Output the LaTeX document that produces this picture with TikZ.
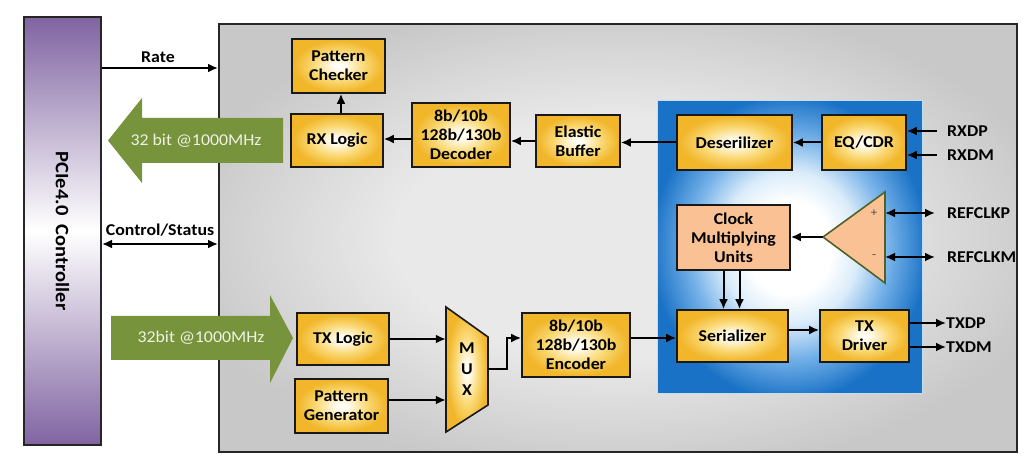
\documentclass[tikz,border=0pt]{standalone}
\usepackage{fontspec}
\setmainfont{Carlito}[FakeStretch=1.08]
\usetikzlibrary{arrows.meta,calc}
\definecolor{gold}{RGB}{241,182,42}
\definecolor{goldmid}{RGB}{250,216,115}
\definecolor{goldin}{RGB}{255,250,232}
\definecolor{bluee}{RGB}{26,114,198}
\definecolor{bluemid}{RGB}{115,176,232}
\definecolor{bluel}{RGB}{218,236,250}
\definecolor{purp}{RGB}{128,100,162}
\definecolor{olivegr}{RGB}{119,147,60}
\definecolor{peach}{RGB}{250,194,148}
\definecolor{ampline}{RGB}{79,98,40}
\definecolor{greyin}{RGB}{233,233,233}
\definecolor{greyout}{RGB}{200,200,200}
\definecolor{bustext}{RGB}{240,242,228}
\pgfdeclareradialshading{goldshade}{\pgfpoint{0bp}{0bp}}{color(0bp)=(white); color(4bp)=(goldin); color(14bp)=(goldmid); color(24bp)=(gold); color(50bp)=(gold)}
\pgfdeclareradialshading{blueshade}{\pgfpoint{0bp}{0bp}}{color(0bp)=(white); color(8bp)=(white); color(13bp)=(bluel); color(19bp)=(bluemid); color(26bp)=(bluee); color(50bp)=(bluee)}
\pgfdeclareradialshading{greyshade}{\pgfpoint{0bp}{0bp}}{color(0bp)=(greyin); color(14bp)=(greyin); color(28bp)=(greyout); color(50bp)=(greyout)}
\newcommand{\blkfont}{\fontsize{16.5}{19}\selectfont\bfseries}
\newcommand{\busfont}{\fontsize{16.5}{19}\selectfont}
\tikzset{
  blk/.style={draw=black!90, line width=1.6pt, shade, shading=goldshade, inner sep=0pt, align=center, font=\blkfont},
  arr/.style={line width=2pt, -{Latex[length=10pt,width=9pt]}},
  darr/.style={line width=2pt, {Latex[length=10pt,width=9pt]}-{Latex[length=10pt,width=9pt]}},
  pin/.style={anchor=west, inner sep=0pt, font=\blkfont},
  lbl/.style={inner sep=0pt, font=\blkfont},
  bustxt/.style={inner sep=0pt, font=\busfont, text=bustext}
}
\begin{document}
\begin{tikzpicture}[x=1pt,y=-1pt]
\useasboundingbox[fill=white] (0,0) rectangle (1026,462);
% frames
\node[draw=black!85, line width=2pt, shade, shading=greyshade, minimum width=798pt, minimum height=428pt] (main) at (618,238) {};
\node[draw=white!75!bluee, line width=1pt, shade, shading=blueshade, minimum width=265pt, minimum height=293pt] (blue) at (789.5,247.5) {};
\node[draw=black!85, line width=2pt, top color=purp, bottom color=purp, middle color=white, minimum width=77pt, minimum height=428pt] (ctrl) at (62.5,231) {};
\node[rotate=-90, inner sep=0pt, font=\fontsize{19}{21}\selectfont\bfseries] (ctrltxt) at (62.5,231) {PCIe4.0\ \ Controller};
% green buses
\fill[olivegr] (283,118) -- (142,118) -- (142,98) -- (108,140.5) -- (142,183) -- (142,163) -- (283,163) -- cycle;
\node[bustxt] (rxbus) at (196,141) {32 bit @1000MHz};
\fill[olivegr] (111,316) -- (270,316) -- (270,295) -- (293,338) -- (270,383) -- (270,360) -- (111,360) -- cycle;
\node[bustxt] (txbus) at (201,338) {32bit @1000MHz};
% controller links
\coordinate (rateY) at (0,68);
\coordinate (csY) at (0,244);
\node[lbl] (rate) at (158,57) {Rate};
\node[lbl] (cs) at (160,230) {Control/Status};
\draw[arr] (ctrl.east |- rateY) -- (main.west |- rateY);
\draw[darr] (ctrl.east |- csY) -- (main.west |- csY);
% RX path
\node[blk, minimum width=93pt, minimum height=54pt] (pc) at (338.5,66) {Pattern\\Checker};
\node[blk, minimum width=92pt, minimum height=53pt] (rxl) at (337,140.5) {RX Logic};
\node[blk, minimum width=98pt, minimum height=64pt] (dec) at (461,135) {8b/10b\\128b/130b\\Decoder};
\node[blk, minimum width=84pt, minimum height=52pt] (eb) at (578,141) {Elastic\\Buffer};
\node[blk, minimum width=115pt, minimum height=55pt] (des) at (734.5,142.5) {Deserilizer};
\node[blk, minimum width=84pt, minimum height=55pt] (eq) at (864,142.5) {EQ/CDR};
% clock
\node[draw=black!90, line width=1.6pt, fill=peach, inner sep=0pt, align=center, font=\blkfont, minimum width=113pt, minimum height=65pt] (cmu) at (733.5,237.5) {Clock\\Multiplying\\Units};
\path[draw=ampline, line width=1.6pt, fill=peach] (885,192) -- (885,283) -- (823,237) -- cycle;
\coordinate (amptip) at (823,237);
\coordinate (ampP) at (885,213);
\coordinate (ampM) at (885,257);
\node[inner sep=0pt, text=black!70, font=\fontsize{12}{13}\selectfont] (plus) at (874,213) {+};
\node[inner sep=0pt, text=black!70, font=\fontsize{12}{13}\selectfont] (minus) at (874,257) {-};
% TX path
\node[blk, minimum width=111pt, minimum height=52pt] (ser) at (732.5,336) {Serializer};
\node[blk, minimum width=89pt, minimum height=52pt] (txd) at (864.5,336) {TX\\Driver};
\node[blk, minimum width=92pt, minimum height=52pt] (txl) at (343,339) {TX Logic};
\node[blk, minimum width=93pt, minimum height=54pt] (pg) at (341.5,406) {Pattern\\Generator};
\node[blk, minimum width=108pt, minimum height=64pt] (enc) at (576,345) {8b/10b\\128b/130b\\Encoder};
\path[draw=black!90, line width=1.6pt, shade, shading=goldshade] (446,307) -- (488,337) -- (488,405) -- (446,432) -- cycle;
\node[align=center, inner sep=0pt, minimum width=42pt, minimum height=125pt, font=\blkfont] (mux) at (467,369.5) {M\\[2pt]U\\[2pt]X};
% pins
\node[pin] (rxdp) at (947,131) {RXDP};
\node[pin] (rxdm) at (947,155) {RXDM};
\node[pin] (refp) at (947,213) {REFCLKP};
\node[pin] (refm) at (947,257) {REFCLKM};
\node[pin] (txdp) at (946,323) {TXDP};
\node[pin] (txdm) at (946,347) {TXDM};
% RX connectors
\draw[arr] ([xshift=-10pt]rxdp.west) -- (rxdp.west -| eq.east);
\draw[arr] ([xshift=-10pt]rxdm.west) -- (rxdm.west -| eq.east);
\draw[arr] (eq.west) -- (eq.west -| des.east);
\draw[arr] (des.west) -- (des.west -| eb.east);
\draw[arr] (eb.west) -- (eb.west -| dec.east);
\draw[arr] ([yshift=-4pt]dec.west) -- ([yshift=-4pt]dec.west -| rxl.east);
\draw[arr] ([xshift=4pt]rxl.north) -- ([xshift=4pt]rxl.north |- pc.south);
% clock connectors
\draw[darr] ([xshift=-12pt]refp.west) -- (ampP);
\draw[darr] ([xshift=-12pt]refm.west) -- (ampM);
\draw[arr] (amptip) -- (amptip -| cmu.east);
\draw[arr] ([xshift=-10pt]cmu.south) -- ([xshift=-10pt]cmu.south |- ser.north);
\draw[arr] ([xshift=6pt]cmu.south) -- ([xshift=6pt]cmu.south |- ser.north);
% TX connectors
\draw[arr] (txl.east) -- (txl.east -| mux.west);
\draw[arr] ([yshift=6pt]pg.east) -- ([yshift=6pt]pg.east -| mux.west);
\draw[arr] (mux.east) -- ++(19,0) |- ([yshift=7pt]enc.west);
\draw[arr] ([yshift=7pt]enc.east) -- ([yshift=7pt]enc.east -| ser.west);
\draw[arr] ([yshift=6pt]ser.east) -- ([yshift=6pt]ser.east -| txd.west);
\draw[arr] ([yshift=13pt]txd.east) -- ([yshift=13pt]txd.east -| txdp.west);
\draw[arr] ([yshift=-11pt]txd.east) -- ([yshift=-11pt]txd.east -| txdm.west);
\end{tikzpicture}
\end{document}
